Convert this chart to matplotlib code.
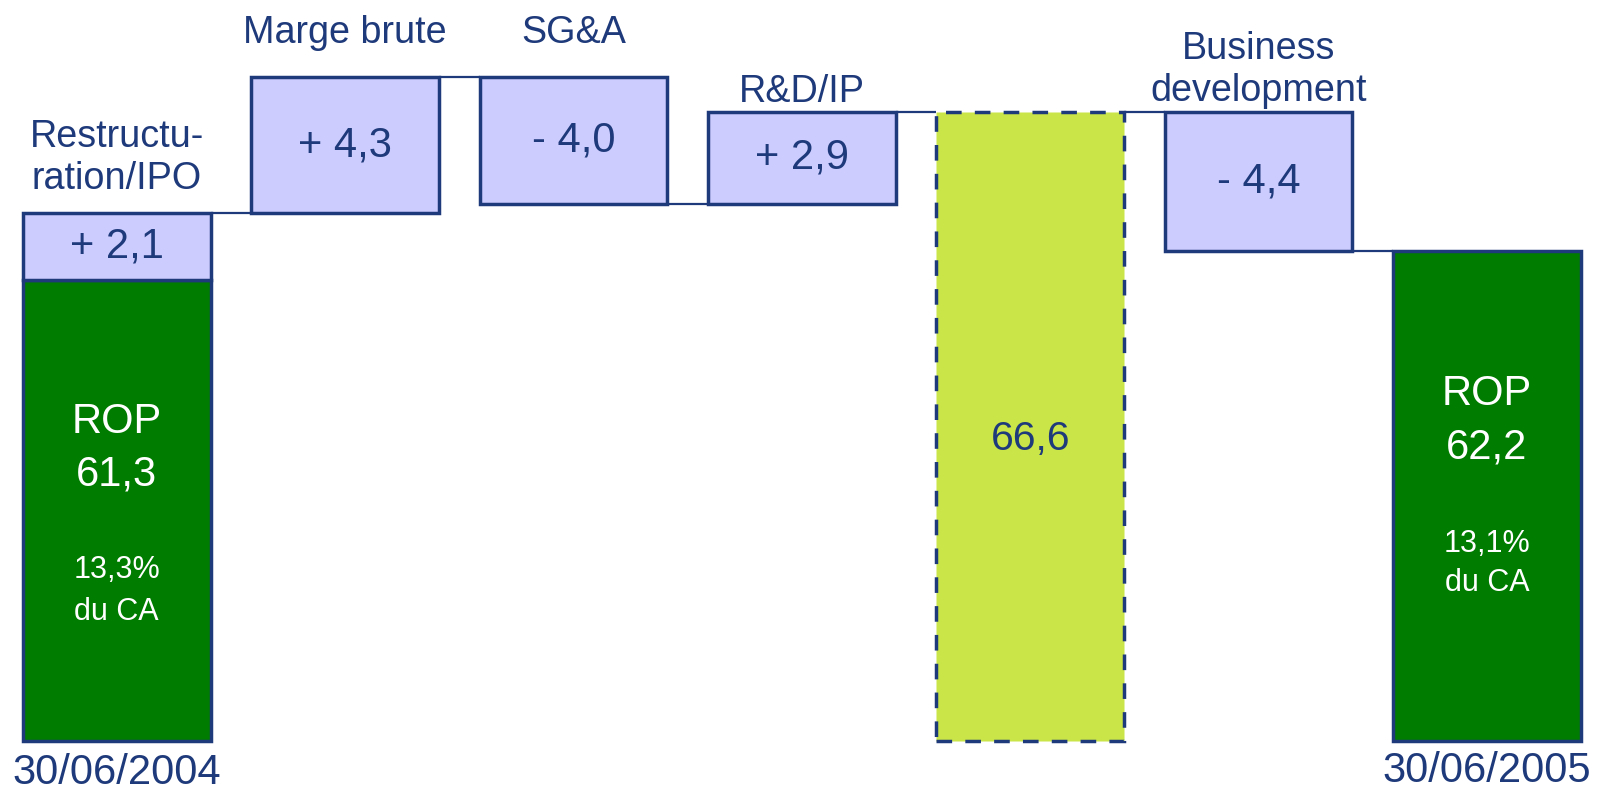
import matplotlib
matplotlib.use("Agg")
import matplotlib.pyplot as plt

# ---- data ----
start_label = "30/06/2004"
end_label = "30/06/2005"
start_value = 61.3
end_value = 62.2
subtotal_value = 66.6
step_labels = ["Restructu-\nration/IPO", "Marge brute", "SG&A", "R&D/IP", "Business\ndevelopment"]
step_values = [2.1, 4.3, -4.0, 2.9, -4.4]
start_pct = "13,3%\ndu CA"
end_pct = "13,1%\ndu CA"

# ---- style ----
NAVY = "#1F3A7A"
LAV = "#CCCCFF"
GREEN = "#007C00"
LIME = "#C9E547"
BASE = 46.72
W = 0.822
LW = 2.5
plt.rcParams["font.family"] = ["Liberation Sans", "DejaVu Sans"]

step_cols = [0, 1, 2, 3, 5]
sub_col = 4
end_col = 6
label_off = [39.5, 32.0, 32.0, 14.0, 30.0]


def fr(v):
    return f"{v:.1f}".replace(".", ",")


fig = plt.figure(figsize=(16.06, 7.94), dpi=100)
ax = fig.add_axes([0, 0, 1, 1])
ax.set_xlim(-0.511, 6.521)
ax.set_ylim(45.03, 70.14)
ax.axis("off")

# start bar
ax.bar(0, start_value - BASE, bottom=BASE, width=W, color=GREEN, edgecolor=NAVY, linewidth=LW, zorder=2)
ax.annotate(f"ROP\n{fr(start_value)}", (0, start_value), xytext=(0, -121.5), textcoords="offset points",
            ha="center", va="center", color="white", fontsize=30, linespacing=1.42)
ax.annotate(start_pct, (0, start_value), xytext=(0, -224), textcoords="offset points",
            ha="center", va="center", color="white", fontsize=22, linespacing=1.52)
ax.annotate(start_label, (0, BASE), xytext=(0, -23), textcoords="offset points",
            ha="center", va="center", color=NAVY, fontsize=30)

# steps
level = start_value
ends = {}
for i, (col, v, lab) in enumerate(zip(step_cols, step_values, step_labels)):
    new = level + v
    lo, hi = min(level, new), max(level, new)
    ax.bar(col, hi - lo, bottom=lo, width=W, color=LAV, edgecolor=NAVY, linewidth=LW, zorder=2)
    sign = "+ " if v > 0 else "- "
    ax.text(col, (lo + hi) / 2, sign + fr(abs(v)), ha="center", va="center", color=NAVY, fontsize=30, zorder=3)
    ax.annotate(lab, (col, hi), xytext=(0, label_off[i]), textcoords="offset points",
                ha="center", va="center", color=NAVY, fontsize=27.2, linespacing=1.2)
    ends[col] = new
    level = new
    if col == 3:
        ends[sub_col] = subtotal_value

# subtotal bar (dashed)
ax.bar(sub_col, subtotal_value - BASE, bottom=BASE, width=W, color=LIME, edgecolor=NAVY,
       linewidth=LW, linestyle=(0, (4.5, 3.8)), zorder=2)
ax.annotate(fr(subtotal_value), (sub_col, (subtotal_value + BASE) / 2), xytext=(0, -9),
            textcoords="offset points", ha="center", va="center", color=NAVY, fontsize=29.5, zorder=3)

# end bar
ax.bar(end_col, end_value - BASE, bottom=BASE, width=W, color=GREEN, edgecolor=NAVY, linewidth=LW, zorder=2)
ax.annotate(f"ROP\n{fr(end_value)}", (end_col, end_value), xytext=(0, -122), textcoords="offset points",
            ha="center", va="center", color="white", fontsize=30, linespacing=1.42)
ax.annotate(end_pct, (end_col, end_value), xytext=(0, -225), textcoords="offset points",
            ha="center", va="center", color="white", fontsize=22, linespacing=1.38)
ax.annotate(end_label, (end_col, BASE), xytext=(0, -22), textcoords="offset points",
            ha="center", va="center", color=NAVY, fontsize=30)

# connectors
for c in range(end_col):
    lvl = ends[c]
    ax.plot([c + W / 2, c + 1 - W / 2], [lvl, lvl], color=NAVY, linewidth=1.6, zorder=1,
            solid_capstyle="butt")

fig.savefig("out.png", dpi=100, facecolor="white")
